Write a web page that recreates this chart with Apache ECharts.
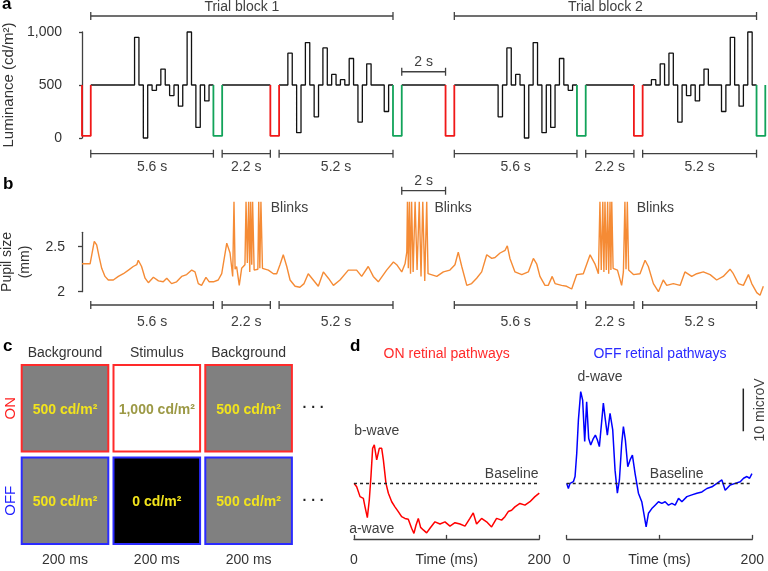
<!DOCTYPE html>
<html><head><meta charset="utf-8">
<script src="https://cdn.jsdelivr.net/npm/echarts@6/dist/echarts.min.js"></script>
<style>html,body{margin:0;padding:0;background:#fff}#c{width:768px;height:571px}</style>
</head><body><div id="c"></div>
<script>
const FONT = '"Liberation Sans", Arial, Helvetica, sans-serif';
const INK = '#404040';

// ---------------- Panel a: luminance sequence ----------------
const stepDur = 0.2;          // s per stimulus step
const dipDur = 0.4;           // s per marker dip
const baseLum = 500;
const dipLum = 20;
const trialStarts = [0.4, 9.0, 17.0, 25.6];
const trial1 = [500,500,500,500,500,500,500,500,500,500,950,500,0,500,450,500,650,500,400,500,300,500,1000,500,100,500,350,500];
const trial2 = [500,500,800,500,50,500,900,500,200,500,850,500,600,500,550,500,750,500,150,500,700,500,500,500,250,500];
const trial3 = [500,500,500,500,500,500,500,500,500,500,200,500,850,500,600,500,0,500,900,500,50,500,100,500,750,500,450,500];
const trial4 = [500,500,550,500,700,500,800,500,150,500,400,500,350,500,650,500,500,500,250,500,950,500,300,500,1000,500];
const redDipStarts = [0, 8.6, 16.6, 25.2];
const greenDipStarts = [6.0, 14.2, 22.6, 30.8];
const grayGaps = [[6.4, 8.6], [14.6, 16.6], [23.0, 25.2]];
const lumTicks = [0, 500, 1000];
const lumTickLabels = ['0', '500', '1,000'];
const trialBlocks = [[0.4, 14.2, 'Trial block 1'], [17.0, 30.8, 'Trial block 2']];
const intervals = [[0.4, 6.0, '5.6 s'], [6.4, 8.6, '2.2 s'], [9.0, 14.2, '5.2 s'], [17.0, 22.6, '5.6 s'], [23.0, 25.2, '2.2 s'], [25.6, 30.8, '5.2 s']];
const twoSec = [[14.6, 16.6, '2 s']];

// ---------------- Panel b: pupil size (mm) ----------------
const pupilTicks = [2, 2.5];
const pupilTickLabels = ['2', '2.5'];
const pupil = [
[0.00,2.31],[0.37,2.31],[0.44,2.33],[0.56,2.56],[0.67,2.52],[0.78,2.39],[0.90,2.26],[1.05,2.17],[1.20,2.13],[1.43,2.13],
[1.66,2.17],[1.89,2.20],[2.12,2.24],[2.34,2.28],[2.50,2.30],[2.57,2.35],[2.72,2.28],[2.88,2.15],[3.03,2.10],[3.26,2.16],
[3.49,2.12],[3.71,2.11],[3.87,2.15],[4.09,2.09],[4.32,2.11],[4.55,2.17],[4.78,2.19],[5.01,2.24],[5.16,2.22],[5.31,2.09],
[5.46,2.07],[5.66,2.16],[5.81,2.11],[6.00,2.11],[6.22,2.13],[6.38,2.20],[6.61,2.54],[6.76,2.43],[6.88,2.17],
[6.94,3.0],[6.99,2.25],[7.06,2.28],[7.18,2.07],[7.29,2.26],[7.44,2.30],[7.49,3.0],[7.55,2.32],[7.61,3.0],[7.66,2.22],
[7.70,3.0],[7.75,2.30],[7.79,3.0],[7.86,2.24],[7.95,2.24],[8.03,2.25],[8.07,3.0],[8.12,2.26],[8.17,3.0],[8.24,2.26],
[8.28,2.26],[8.51,2.24],[8.74,2.20],[8.89,2.20],[9.04,2.30],[9.19,2.41],[9.35,2.28],[9.50,2.13],[9.73,2.06],[9.95,2.05],
[10.14,2.09],[10.33,2.20],[10.56,2.13],[10.79,2.06],[11.02,2.22],[11.25,2.15],[11.48,2.07],[11.78,2.13],[12.16,2.24],[12.54,2.24],
[12.77,2.17],[13.07,2.28],[13.30,2.17],[13.53,2.11],[13.91,2.24],[14.22,2.33],[14.37,2.30],[14.60,2.22],[14.75,2.31],[14.83,2.44],
[14.86,3.0],[14.90,2.26],[14.95,3.0],[15.00,2.20],[15.05,3.0],[15.12,2.22],[15.21,3.0],[15.30,2.24],[15.40,3.0],[15.48,2.17],
[15.56,3.0],[15.65,2.12],[15.74,3.0],[15.80,2.20],[15.89,2.20],[16.20,2.17],[16.50,2.22],[16.80,2.24],[17.03,2.30],[17.18,2.44],
[17.34,2.28],[17.57,2.07],[17.79,2.09],[18.02,2.15],[18.25,2.22],[18.48,2.41],[18.71,2.37],[18.86,2.38],[19.09,2.43],[19.32,2.46],
[19.42,2.51],[19.54,2.37],[19.77,2.22],[20.08,2.19],[20.38,2.22],[20.61,2.37],[20.76,2.31],[20.91,2.17],[21.14,2.07],[21.29,2.07],
[21.47,2.17],[21.60,2.09],[21.90,2.07],[22.13,2.06],[22.36,2.03],[22.59,2.19],[22.89,2.20],[23.20,2.41],[23.42,2.31],[23.58,2.20],
[23.65,3.0],[23.71,2.24],[23.78,3.0],[23.83,2.22],[23.88,3.0],[23.94,2.24],[24.00,3.0],[24.05,2.20],[24.11,3.0],[24.15,2.24],
[24.19,3.0],[24.25,2.26],[24.45,2.24],[24.64,2.07],[24.72,2.22],[24.79,3.0],[24.84,2.25],[24.90,3.0],[24.96,2.24],[25.18,2.19],
[25.48,2.20],[25.71,2.35],[25.86,2.28],[26.09,2.09],[26.32,2.00],[26.54,2.13],[26.70,2.07],[27.00,2.09],[27.31,2.07],[27.53,2.22],
[27.84,2.17],[28.07,2.20],[28.37,2.22],[28.68,2.19],[28.98,2.13],[29.28,2.17],[29.59,2.25],[29.74,2.20],[29.97,2.09],[30.20,2.07],
[30.43,2.19],[30.58,2.09],[30.81,1.99],[30.96,1.96],[31.11,2.06]
];
const blinkLabels = [[8.62, 'Blinks'], [16.09, 'Blinks'], [25.33, 'Blinks']];

// ---------------- Panel c: stimulus cells ----------------
const cellCols = ['Background', 'Stimulus', 'Background'];
const cellRows = ['ON', 'OFF'];
const cellDur = ['200 ms', '200 ms', '200 ms'];
const cellLum = [[500, 1000, 500], [500, 0, 500]];

// ---------------- Panel d: ERG traces (microV vs ms) ----------------
const timeTicks = [0, 100, 200];
const timeTickLabels = ['0', 'Time (ms)', '200'];
const onErg = [[0,0],[2.9,-0.8],[6.5,-3.1],[10.1,-3.5],[11.9,-5.5],[14.4,-8.0],[16.5,-3.9],[18.3,1.6],[20.1,8.2],[21.9,9.0],
[24.5,5.5],[27.3,8.2],[29.9,8.2],[31.7,5.5],[34.5,0],[37.1,-2.3],[40.7,-4.3],[44.2,-5.5],[47.8,-6.6],[51.4,-7.8],
[55.0,-8.2],[58.6,-8.4],[62.2,-10.5],[64.7,-11.7],[66.9,-9.8],[69.4,-8.2],[71.9,-10.3],[74.8,-10.9],[78.4,-11.6],[82.0,-10.5],
[87.4,-9.0],[92.8,-9.5],[98.2,-9.0],[103.6,-10.0],[109.0,-9.2],[114.4,-9.5],[119.8,-10.0],[125.1,-8.2],[128.7,-6.9],[132.3,-9.5],
[137.7,-8.2],[143.1,-9.0],[148.5,-10.2],[153.9,-8.2],[159.3,-8.6],[162.9,-7.8],[166.5,-6.6],[170.1,-6.3],[173.7,-5.5],[179.1,-4.7],
[184.5,-5.1],[189.9,-4.3],[195.3,-3.1],[200,-2.3]];
const offErg = [[0,0],[1.8,-1.2],[3.6,0],[7.2,0.4],[9.0,1.6],[10.8,7.0],[12.6,14.8],[15.1,21.5],[17.2,19.5],[19.4,9.8],
[21.5,19.1],[23.7,10.5],[25.9,9.0],[28.7,10.5],[30.9,11.3],[33.0,10.2],[35.2,8.6],[37.7,14.5],[39.5,18.8],[41.7,14.8],
[43.8,11.3],[46.7,16.4],[49.6,12.5],[52.1,3.1],[54.6,-2.3],[56.8,0.8],[59.3,9.4],[61.1,13.3],[63.2,10.2],[65.8,3.9],
[68.3,5.5],[70.8,6.6],[73.7,2.3],[77.3,-2.3],[80.9,-4.3],[83.4,-7.4],[85.6,-10.2],[88.1,-7.0],[91.7,-5.9],[95.3,-5.1],
[98.9,-4.3],[102.5,-4.7],[106.1,-4.3],[109.7,-5.1],[113.3,-4.7],[116.9,-5.1],[120.5,-3.5],[124.1,-4.3],[129.5,-3.1],[134.9,-2.7],
[140.3,-2.3],[145.7,-2.0],[151.1,-1.2],[156.5,-0.8],[161.9,0],[167.2,0.8],[170.8,-1.6],[176.2,-0.4],[181.6,0],[187,0.4],
[190.6,1.2],[194.2,1.6],[197.1,1.2],[199.6,2.3]];
const scaleBarUV = 10;

// ---------------- build line data ----------------
function stepPoints(t0, vals) {
  const pts = [];
  vals.forEach((v, i) => { pts.push([t0 + i * stepDur, v]); pts.push([t0 + (i + 1) * stepDur, v]); });
  return pts;
}
const trials = [trial1, trial2, trial3, trial4];
const blackPts = [];
trials.forEach((tr, i) => {
  stepPoints(trialStarts[i], tr).forEach(p => blackPts.push(p));
  blackPts.push([trialStarts[i] + tr.length * stepDur, null]);
  if (grayGaps[i]) { blackPts.push([grayGaps[i][0], baseLum], [grayGaps[i][1], baseLum], [grayGaps[i][1], null]); }
});
function dipPoints(starts) {
  const pts = [];
  starts.forEach(t => { pts.push([t, baseLum], [t, dipLum], [t + dipDur, dipLum], [t + dipDur, baseLum], [t + dipDur, null]); });
  return pts;
}

// ---------------- helpers ----------------
function bracketSeries(xi, yi, spans, level, side, gap) {
  return {
    type: 'custom', xAxisIndex: xi, yAxisIndex: yi, clip: false, silent: true, z: 5,
    data: spans.map(s => [s[0], s[1], level]),
    encode: { x: [0, 1], y: 2 },
    renderItem(params, api) {
      const s = spans[params.dataIndex];
      const a = api.coord([s[0], level]), b = api.coord([s[1], level]);
      const y = a[1], cap = 4;
      const st = { stroke: INK, lineWidth: 1.3 };
      const ty = side === 'above' ? y - gap : y + gap;
      return { type: 'group', children: [
        { type: 'line', shape: { x1: a[0], y1: y, x2: b[0], y2: y }, style: st },
        { type: 'line', shape: { x1: a[0], y1: y - cap, x2: a[0], y2: y + cap }, style: st },
        { type: 'line', shape: { x1: b[0], y1: y - cap, x2: b[0], y2: y + cap }, style: st },
        { type: 'text', x: (a[0] + b[0]) / 2, y: ty, style: { text: s[2], align: 'center', verticalAlign: 'middle', fill: INK, font: '14px ' + FONT } }
      ] };
    }
  };
}
function textSeries(xi, yi, items) {
  return {
    type: 'custom', xAxisIndex: xi, yAxisIndex: yi, clip: false, silent: true, z: 6,
    data: items.map(d => [d.x, d.y]),
    renderItem(params, api) {
      const d = items[params.dataIndex];
      const c = api.coord([d.x, d.y]);
      return { type: 'text', x: c[0], y: c[1], rotation: d.rot || 0,
        style: { text: d.text, align: d.align || 'center', verticalAlign: 'middle', fill: d.color || INK, font: (d.size || 14) + 'px ' + FONT } };
    }
  };
}

const chart = echarts.init(document.getElementById('c'), null, { renderer: 'canvas', width: 768, height: 571 });

const gridBase = { containLabel: false, outerBoundsMode: 'none' };
const dAxis = (gi) => ({ type: 'value', gridIndex: gi, min: 0, max: 200, interval: 100, splitLine: { show: false },
  axisLine: { onZero: false, lineStyle: { color: INK, width: 1.3 } },
  axisTick: { inside: true, length: 4, lineStyle: { color: INK, width: 1.3 } },
  axisLabel: { fontSize: 14, color: '#333', margin: 14, formatter: v => timeTickLabels[timeTicks.indexOf(v)] } });
const option = {
  animation: false,
  backgroundColor: '#fff',
  textStyle: { fontFamily: FONT },
  grid: [
    Object.assign({ left: 82, top: 32, width: 683.3, height: 106 }, gridBase),
    Object.assign({ left: 82, top: 232.3, width: 683.3, height: 59.4 }, gridBase),
    Object.assign({ left: 19.1, top: 362, width: 275.4, height: 185 }, gridBase),
    Object.assign({ left: 354, top: 376.6, width: 185.3, height: 162.3 }, gridBase),
    Object.assign({ left: 566.7, top: 376.6, width: 185.6, height: 162.3 }, gridBase)
  ],
  xAxis: [
    { type: 'value', gridIndex: 0, min: 0, max: 31.2, show: false },
    { type: 'value', gridIndex: 1, min: 0, max: 31.2, show: false },
    { type: 'category', gridIndex: 2, position: 'top', data: cellCols, axisLine: { show: false }, axisTick: { show: false },
      axisLabel: { interval: 0, fontSize: 14, color: '#333', margin: 2 } },
    { type: 'category', gridIndex: 2, position: 'bottom', data: cellDur, axisLine: { show: false }, axisTick: { show: false },
      axisLabel: { interval: 0, fontSize: 14, color: '#333', margin: 6 } },
    dAxis(3),
    dAxis(4)
  ],
  yAxis: [
    { type: 'value', gridIndex: 0, min: 0, max: 1000, interval: 500, offset: 11, splitLine: { show: false },
      name: 'Luminance (cd/m²)', nameLocation: 'middle', nameGap: 47, nameTextStyle: { fontSize: 15, color: '#333' },
      axisLine: { show: true, lineStyle: { color: INK, width: 1.3 } }, axisTick: { show: true, length: 3, lineStyle: { color: INK, width: 1.3 } },
      axisLabel: { fontSize: 14, color: '#333', margin: 9, formatter: v => lumTickLabels[lumTicks.indexOf(v)] } },
    { type: 'value', gridIndex: 1, min: 2, max: 2.66, offset: 9, splitLine: { show: false },
      name: 'Pupil size\n(mm)', nameLocation: 'middle', nameGap: 36, nameTextStyle: { fontSize: 14, color: '#333', lineHeight: 18 },
      axisLine: { show: true, lineStyle: { color: INK, width: 1.3 } },
      axisTick: { show: true, length: 4, customValues: pupilTicks, lineStyle: { color: INK, width: 1.3 } },
      axisLabel: { fontSize: 14, color: '#333', margin: 8, customValues: pupilTicks, formatter: v => pupilTickLabels[pupilTicks.indexOf(v)] } },
    { type: 'category', gridIndex: 2, data: cellRows, inverse: true, axisLine: { show: false }, axisTick: { show: false },
      axisLabel: { interval: 0, fontSize: 15, rotate: 90, margin: 1, color: (v, i) => (i === 0 || v === 'ON') ? '#ff2020' : '#2020ff' } },
    { type: 'value', gridIndex: 3, min: -13, max: 25, show: false },
    { type: 'value', gridIndex: 4, min: -13, max: 25, show: false }
  ],
  graphic: [
    { type: 'text', x: 2, y: 13, style: { text: 'a', font: 'bold 17px ' + FONT, fill: '#000', verticalAlign: 'bottom' } },
    { type: 'text', x: 3, y: 193, style: { text: 'b', font: 'bold 17px ' + FONT, fill: '#000', verticalAlign: 'bottom' } },
    { type: 'text', x: 3, y: 355, style: { text: 'c', font: 'bold 17px ' + FONT, fill: '#000', verticalAlign: 'bottom' } },
    { type: 'text', x: 350, y: 355, style: { text: 'd', font: 'bold 17px ' + FONT, fill: '#000', verticalAlign: 'bottom' } }
  ],
  series: [
    // panel a
    { type: 'line', xAxisIndex: 0, yAxisIndex: 0, data: blackPts, symbol: 'none', clip: false, z: 3,
      lineStyle: { color: '#111', width: 1.3 } },
    { type: 'line', xAxisIndex: 0, yAxisIndex: 0, data: dipPoints(redDipStarts), symbol: 'none', clip: false, z: 4,
      lineStyle: { color: '#f01818', width: 1.8 } },
    { type: 'line', xAxisIndex: 0, yAxisIndex: 0, data: dipPoints(greenDipStarts), symbol: 'none', clip: false, z: 4,
      lineStyle: { color: '#12a35a', width: 1.8 } },
    bracketSeries(0, 0, trialBlocks, 1151, 'above', 9),
    bracketSeries(0, 0, twoSec, 625, 'above', 10),
    bracketSeries(0, 0, intervals, -148, 'below', 13),
    // panel b
    { type: 'line', xAxisIndex: 1, yAxisIndex: 1, data: pupil, symbol: 'none', clip: false, z: 3,
      lineStyle: { color: '#f58b35', width: 1.4 } },
    bracketSeries(1, 1, intervals, 1.852, 'below', 17),
    bracketSeries(1, 1, twoSec, 3.122, 'above', 10),
    textSeries(1, 1, blinkLabels.map(b => ({ x: b[0], y: 2.93, text: b[1], align: 'left' }))),
    // panel c
    { type: 'custom', xAxisIndex: 2, yAxisIndex: 2, silent: true, clip: false,
      data: cellLum.flatMap((row, r) => row.map((v, c) => [c, r, v])),
      encode: { x: 0, y: 1 },
      renderItem(params, api) {
        const col = api.value(0), row = api.value(1), lum = api.value(2);
        const c = api.coord([col, row]);
        const sz = api.size([1, 1]);
        const w = Math.abs(sz[0]) - 5.2, h = Math.abs(sz[1]) - 5.8;
        const fill = lum >= 1000 ? '#ffffff' : (lum <= 0 ? '#000000' : '#808080');
        const stroke = row === 0 ? '#ff2a2a' : '#2b2bff';
        const txtColor = lum >= 1000 ? '#9c9945' : '#f2e41c';
        const children = [
          { type: 'rect', shape: { x: c[0] - w / 2, y: c[1] - h / 2, width: w, height: h }, style: { fill: fill, stroke: stroke, lineWidth: 2 } },
          { type: 'text', x: c[0], y: c[1] + 1.5, style: { text: lum.toLocaleString('en-US') + ' cd/m²', align: 'center', verticalAlign: 'middle',
            fill: txtColor, font: 'bold 14px ' + FONT } }
        ];
        if (col === cellCols.length - 1) {
          children.push({ type: 'text', x: c[0] + Math.abs(sz[0]) / 2 + 19, y: c[1], style: { text: '· · ·', align: 'center', verticalAlign: 'middle',
            fill: '#222', font: 'bold 14px ' + FONT } });
        }
        return { type: 'group', children };
      } },
    // panel d
    { type: 'line', xAxisIndex: 4, yAxisIndex: 3, data: onErg, symbol: 'none', z: 3,
      lineStyle: { color: '#ff0000', width: 1.5 },
      markLine: { silent: true, symbol: 'none', label: { show: false }, lineStyle: { color: '#222', type: [3, 3], width: 1.3 }, data: [{ yAxis: 0 }] } },
    { type: 'line', xAxisIndex: 5, yAxisIndex: 4, data: offErg, symbol: 'none', z: 3,
      lineStyle: { color: '#0000ff', width: 1.5 },
      markLine: { silent: true, symbol: 'none', label: { show: false }, lineStyle: { color: '#222', type: [3, 3], width: 1.3 }, data: [{ yAxis: 0 }] } },
    textSeries(4, 3, [
      { x: 100, y: 30.3, text: 'ON retinal pathways', color: '#ff2a2a' },
      { x: 24.5, y: 12.2, text: 'b-wave' },
      { x: 19.1, y: -10.7, text: 'a-wave' },
      { x: 170.2, y: 2.2, text: 'Baseline' }
    ]),
    textSeries(5, 4, [
      { x: 100.5, y: 30.3, text: 'OFF retinal pathways', color: '#2a2aff' },
      { x: 35.9, y: 24.8, text: 'd-wave' },
      { x: 118.5, y: 2.2, text: 'Baseline' },
      { x: 208.3, y: 17.2, text: scaleBarUV + ' microV', rot: Math.PI / 2 }
    ]),
    { type: 'custom', xAxisIndex: 5, yAxisIndex: 4, clip: false, silent: true,
      data: [[190.3, 12.2, 12.2 + scaleBarUV]],
      renderItem(params, api) {
        const a = api.coord([api.value(0), api.value(1)]), b = api.coord([api.value(0), api.value(2)]);
        return { type: 'line', shape: { x1: a[0], y1: a[1], x2: b[0], y2: b[1] }, style: { stroke: '#222', lineWidth: 1.5 } };
      } }
  ]
};
chart.setOption(option);
</script>
</body></html>
